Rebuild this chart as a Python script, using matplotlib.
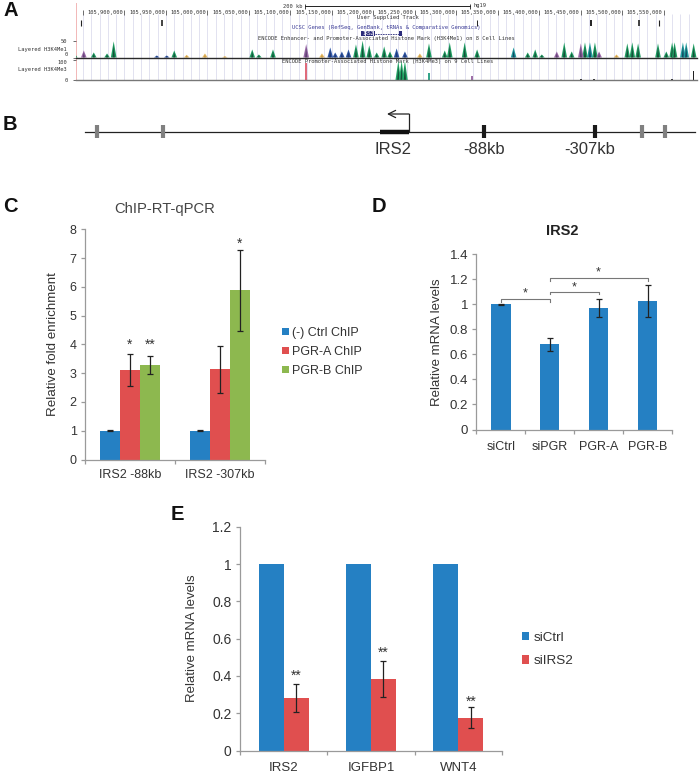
import matplotlib

matplotlib.use("Agg")
import matplotlib.pyplot as plt
import numpy as np

plt.rcParams["font.family"] = ["Liberation Sans", "DejaVu Sans"]

W, H = 700, 773
BLUE = "#2580c3"
RED = "#e04f4f"
GREEN = "#8db84f"
GREY = "#9a9a9a"
TEXT = "#333333"
MONO = "DejaVu Sans Mono"

# panel A, positions in kb from the first ruler tick, heights in track units
ruler_labels = ["105,900,000", "105,950,000", "105,000,000", "105,050,000", "105,100,000",
                "105,150,000", "105,200,000", "105,250,000", "105,300,000", "105,350,000",
                "105,400,000", "105,450,000", "105,500,000", "105,550,000"]
user_track = [-2, 95, 475, 612, 670, 694]
me1_green_pos = [-10, 13, 29, 37, 110, 204, 212, 229, 329, 337, 345, 354, 363, 370, 417, 436, 442,
                 460, 475, 536, 545, 553, 580, 589, 605, 617, 656, 662, 669, 693, 703, 710, 713, 736]
me1_green_h = [12, 15, 12, 48, 21, 24, 9, 24, 39, 50, 36, 15, 33, 18, 42, 21, 45,
               45, 24, 15, 24, 9, 45, 18, 45, 45, 42, 45, 42, 42, 18, 45, 45, 42]
me1_blue_pos = [89, 101, 298, 304, 312, 320, 378, 388]
me1_blue_h = [6, 6, 30, 15, 18, 24, 27, 18]
me1_orange_pos = [125, 147, 171, 288, 406, 643]
me1_orange_h = [8, 12, 4, 12, 12, 9]
me1_purple_pos = [1, 269, 571, 600, 622]
me1_purple_h = [21, 40, 18, 42, 18]
me1_teal_pos = [519, 611, 723, 727]
me1_teal_h = [30, 45, 45, 45]
me3_green_pos = [380, 384, 388]
me3_green_h = [95, 95, 95]
me3_other_pos = [269, 417, 469, 600, 616, 710, 736]
me3_other_h = [85, 35, 20, 5, 5, 6, 45]
me3_other_colors = ["#e06b7a", "#35a58a", "#a070a8", "#333333", "#333333", "#333333", "#222222"]

# panel B
grey_sites = [97, 163, 642, 665]
black_sites = [484, 595]
gene_span = [380, 409]

# panel C
c_groups = ["IRS2 -88kb", "IRS2 -307kb"]
c_ctrl = [1.0, 1.0]
c_pgra = [3.12, 3.13]
c_pgrb = [3.27, 5.88]
c_ctrl_err = [0.01, 0.01]
c_pgra_err = [0.55, 0.82]
c_pgrb_err = [0.31, 1.40]

# panel D
d_labels = ["siCtrl", "siPGR", "PGR-A", "PGR-B"]
d_values = [1.0, 0.68, 0.97, 1.03]
d_err = [0.003, 0.052, 0.07, 0.128]

# panel E
e_genes = ["IRS2", "IGFBP1", "WNT4"]
e_ctrl = [1, 1, 1]
e_sirs2 = [0.28, 0.385, 0.175]
e_err = [0.075, 0.097, 0.056]


def axes_px(fig, left, top, right, bottom):
    return fig.add_axes([left / W, 1 - bottom / H, (right - left) / W, (bottom - top) / H])


def style_bars(ax, n, labels, fontsize, pad=6):
    ax.set_xlim(-0.5, n - 0.5)
    for side in ["top", "right"]:
        ax.spines[side].set_visible(False)
    for side in ["left", "bottom"]:
        ax.spines[side].set_color(GREY)
        ax.spines[side].set_linewidth(0.9)
    ax.set_xticks(np.arange(n + 1) - 0.5)
    ax.set_xticklabels([])
    ax.set_xticks(np.arange(n), minor=True)
    ax.set_xticklabels(labels, minor=True, fontsize=fontsize, color=TEXT)
    ax.tick_params(axis="x", which="major", length=3, color=GREY, width=0.9)
    ax.tick_params(axis="x", which="minor", length=0, pad=pad)
    ax.tick_params(axis="y", length=3, color=GREY, width=0.9, labelsize=fontsize, labelcolor=TEXT, pad=3)


def draw_peaks(ax, pos, heights, color, core="#12362c", half=3.4):
    for p, h in zip(pos, heights):
        ax.fill([p - half, p, p + half], [0, h, 0], color=color, lw=0)
        ax.fill([p - half * 0.4, p, p + half * 0.4], [0, h * 0.75, 0], color=core, lw=0, alpha=0.75)


def stars(ax, x, y, s, size=10):
    ax.text(x, y, s, ha="center", va="center", fontsize=size, color=TEXT)


fig = plt.figure(figsize=(W / 100, H / 100), dpi=100)

# overview layer of panel A: ruler, gene, window lines
top = axes_px(fig, 76, 3, 697, 80)
top.set_xlim(-8.4, 740)
top.set_ylim(80, 3)
top.axis("off")
top.vlines(np.arange(0, 740, 10), 14, 80, color="#e2e2f0", lw=0.7)
top.vlines(-8.4, 3, 80, color="#f2b8b8", lw=1.4)
for i, lab in enumerate(ruler_labels):
    x = 50 * (i + 1)
    top.vlines(x, 9.5, 15, color="#333333", lw=0.5)
    top.text(x - 1.5, 12.5, lab, ha="right", va="center", fontsize=3.9, family=MONO, color=TEXT)
top.vlines(0, 9.5, 15, color="#333333", lw=0.5)
top.plot([267.5, 466], [6, 6], color="#222222", lw=0.7)
top.vlines([267.5, 466], 3.5, 8.5, color="#222222", lw=0.6)
top.text(265, 6, "200 kb", ha="right", va="center", fontsize=3.9, family=MONO, color=TEXT)
top.text(471, 6, "hg19", ha="left", va="center", fontsize=3.9, family=MONO, color=TEXT)
top.text(367, 17.5, "User Supplied Track", ha="center", va="center", fontsize=4, family=MONO, color=TEXT)
top.vlines(user_track, 20, 25.5, color="#222222", lw=[0.8, 1.2, 0.7, 1.4, 1.2, 0.8])
top.text(366, 28, "UCSC Genes (RefSeq, GenBank, tRNAs & Comparative Genomics)", ha="center", va="center",
         fontsize=4, family=MONO, color="#3c3c96")
top.barh(33.5, 17, left=335, height=4.5, color="#2b2b7a")
top.text(343.5, 33.5, "IRS2", ha="center", va="center", fontsize=3.4, family=MONO, color="white")
top.plot([352, 384], [33.5, 33.5], color="#2b2b7a", lw=0.6, ls=(0, (2, 1)))
top.barh(33.5, 3.5, left=381, height=4.5, color="#2b2b7a")
top.text(366, 38.5, "ENCODE Enhancer- and Promoter-Associated Histone Mark (H3K4Me1) on 8 Cell Lines",
         ha="center", va="center", fontsize=3.9, family=MONO, color=TEXT)
top.text(367.5, 61.5, "ENCODE Promoter-Associated Histone Mark (H3K4Me3) on 9 Cell Lines",
         ha="center", va="center", fontsize=3.9, family=MONO, color=TEXT)

track1 = axes_px(fig, 76, 40.7, 697, 57.5)
track2 = axes_px(fig, 76, 60, 697, 80)
for track, ymax, name in [(track1, 50, "Layered H3K4Me1"), (track2, 100, "Layered H3K4Me3")]:
    track.patch.set_alpha(0)
    track.set_xlim(-8.4, 740)
    track.set_ylim(0, ymax)
    track.set_xticks([])
    track.set_yticks([0, ymax])
    track.tick_params(axis="y", length=2.2, width=0.5, pad=4, labelsize=3.9, color="#333333", labelcolor=TEXT)
    for lab in track.get_yticklabels():
        lab.set_family(MONO)
    for side in ["top", "left", "right"]:
        track.spines[side].set_visible(False)
    track.text(-0.015, 0.5, name, transform=track.transAxes, ha="right", va="center",
               fontsize=3.9, family=MONO, color=TEXT)
# the 0 of the upper track and the 100 of the lower one sit almost on each other
track1.get_yticklabels()[0].set_va("bottom")
track2.get_yticklabels()[1].set_va("top")
track1.spines["bottom"].set_color("#2a2a2a")
track1.spines["bottom"].set_linewidth(1.0)
track2.spines["bottom"].set_color("#777777")
track2.spines["bottom"].set_linewidth(1.0)

draw_peaks(track1, me1_green_pos, me1_green_h, "#1e9e62")
draw_peaks(track1, me1_blue_pos, me1_blue_h, "#2f58a8", core="#1d2d60")
draw_peaks(track1, me1_orange_pos, me1_orange_h, "#e9bb62", core="#b98f40")
draw_peaks(track1, me1_purple_pos, me1_purple_h, "#9a6aa8", core="#4a3560")
draw_peaks(track1, me1_teal_pos, me1_teal_h, "#1f9c9c", core="#102f4f")
draw_peaks(track2, me3_green_pos, me3_green_h, "#23a868")
for p, h, c in zip(me3_other_pos, me3_other_h, me3_other_colors):
    track2.bar(p, h, width=1.8, color=c, lw=0)

# panel B
art = axes_px(fig, 0, 0, W, H)
art.patch.set_alpha(0)
art.set_xlim(0, W)
art.set_ylim(H, 0)
art.axis("off")
art.plot([85, 695], [131.5, 131.5], color="#222222", lw=0.9)
art.vlines(grey_sites, 125, 138, color="#808080", lw=3)
art.vlines(black_sites, 125, 138, color="#1a1a1a", lw=3)
art.plot(gene_span, [131.5, 131.5], color="#111111", lw=3.2, solid_capstyle="butt")
art.plot([gene_span[1], gene_span[1]], [131, 114], color="#222222", lw=0.9)
art.annotate("", xy=(387, 114), xytext=(gene_span[1], 114),
             arrowprops=dict(arrowstyle="->", color="#222222", lw=0.9, mutation_scale=13, shrinkA=0, shrinkB=0))
art.text(393, 149, "IRS2", ha="center", va="center", fontsize=12, color=TEXT)
art.text(484, 149, "-88kb", ha="center", va="center", fontsize=12, color=TEXT)
art.text(590, 149, "-307kb", ha="center", va="center", fontsize=12, color=TEXT)

for letter, x, y in [("A", 3, 10), ("B", 3, 124), ("C", 3, 207), ("D", 372, 207), ("E", 171, 514)]:
    art.text(x, y, letter, ha="left", va="center", fontsize=14.5, fontweight="bold", color="#111111")

art.text(165, 209.5, "ChIP-RT-qPCR", ha="center", va="center", fontsize=10.6, color="#444444")
art.text(562, 231, "IRS2", ha="center", va="center", fontsize=10.5, fontweight="bold", color="#222222")

err_kw = dict(ecolor="#222222", elinewidth=0.9, capsize=2, capthick=0.9)

# panel C
c_ax = axes_px(fig, 85, 229.3, 265, 459.5)
c_x = np.arange(len(c_groups))
bw = 2 / 9
c_ax.bar(c_x - bw, c_ctrl, bw, yerr=c_ctrl_err, color=BLUE, error_kw=err_kw, label="(-) Ctrl ChIP")
c_ax.bar(c_x, c_pgra, bw, yerr=c_pgra_err, color=RED, error_kw=err_kw, label="PGR-A ChIP")
c_ax.bar(c_x + bw, c_pgrb, bw, yerr=c_pgrb_err, color=GREEN, error_kw=err_kw, label="PGR-B ChIP")
c_ax.set_ylim(0, 8)
style_bars(c_ax, 2, c_groups, 9, pad=7)
c_ax.set_ylabel("Relative fold enrichment", fontsize=9.6, color=TEXT, labelpad=8)
stars(c_ax, 0, 4.0, "*")
stars(c_ax, bw, 4.0, "**")
stars(c_ax, 1 + bw, 7.5, "*")
c_ax.legend(loc="center left", bbox_to_anchor=(282 / W, 1 - 352 / H), bbox_transform=fig.transFigure,
            frameon=False, fontsize=9, labelcolor=TEXT, handlelength=0.55, handleheight=0.55,
            handletextpad=0.25, labelspacing=0.55, borderpad=0, borderaxespad=0)

# panel D
d_ax = axes_px(fig, 476.3, 254.3, 672, 429.5)
d_x = np.arange(len(d_labels))
d_ax.bar(d_x, d_values, 0.4, yerr=d_err, color=BLUE, error_kw=err_kw)
d_ax.set_ylim(0, 1.4)
d_ax.set_yticks(np.arange(0, 1.41, 0.2))
d_ax.set_yticklabels(["0", "0.2", "0.4", "0.6", "0.8", "1", "1.2", "1.4"])
style_bars(d_ax, 4, d_labels, 9, pad=8)
d_ax.tick_params(axis="y", labelsize=9.5)
d_ax.set_ylabel("Relative mRNA levels", fontsize=9.5, color=TEXT, labelpad=5)
for x0, x1, y, sx, sy in [(0, 1, 1.04, 0.5, 1.09), (1, 2, 1.10, 1.5, 1.135), (1, 3, 1.21, 2, 1.255)]:
    d_ax.plot([x0, x0, x1, x1], [y - 0.02, y, y, y - 0.02], color="#777777", lw=0.8)
    stars(d_ax, sx, sy, "*", 9)

# panel E
e_ax = axes_px(fig, 240, 526.7, 502, 750.5)
e_x = np.arange(len(e_genes))
e_w = 2 / 7
e_ax.bar(e_x - e_w / 2, e_ctrl, e_w, color=BLUE, label="siCtrl")
e_ax.bar(e_x + e_w / 2, e_sirs2, e_w, yerr=e_err, color=RED, error_kw=err_kw, label="siIRS2")
e_ax.set_ylim(0, 1.2)
e_ax.set_yticks(np.arange(0, 1.21, 0.2))
e_ax.set_yticklabels(["0", "0.2", "0.4", "0.6", "0.8", "1", "1.2"])
style_bars(e_ax, 3, e_genes, 9.5, pad=8)
e_ax.tick_params(axis="y", labelsize=10)
e_ax.set_ylabel("Relative mRNA levels", fontsize=9.5, color=TEXT, labelpad=10)
for x, y in zip(e_x + e_w / 2, [0.40, 0.526, 0.263]):
    stars(e_ax, x, y, "**")
e_ax.legend(loc="center left", bbox_to_anchor=(522 / W, 1 - 649.5 / H), bbox_transform=fig.transFigure,
            frameon=False, fontsize=9.7, labelcolor=TEXT, handlelength=0.55, handleheight=0.55,
            handletextpad=0.3, labelspacing=0.85, borderpad=0, borderaxespad=0)

fig.savefig("out.png", dpi=100)
plt.close(fig)
